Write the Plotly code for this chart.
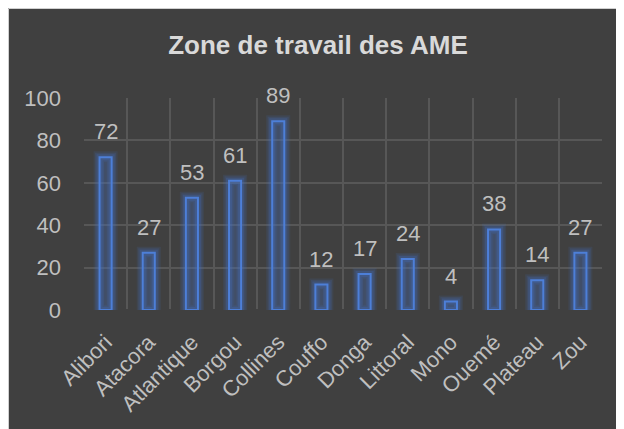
import plotly.graph_objects as go

categories = ["Alibori", "Atacora", "Atlantique", "Borgou", "Collines", "Couffo",
              "Donga", "Littoral", "Mono", "Ouemé", "Plateau", "Zou"]
values = [72, 27, 53, 61, 89, 12, 17, 24, 4, 38, 14, 27]
y_ticks = [0, 20, 40, 60, 80, 100]

W, H = 624, 429
L, R, T, B = 76, 30, 90, 127
pw, ph = W - L - R, H - T - B

BG = "#404040"
FONT = "Liberation Sans Narrow, Arial Narrow, Liberation Sans, Arial, sans-serif"

fig = go.Figure()

# glow layers
for lw, a in [(12, 0.12), (9, 0.16), (6, 0.24)]:
    fig.add_trace(go.Bar(
        x=categories, y=values, width=0.28,
        marker=dict(color="rgba(0,0,0,0)", line=dict(color=f"rgba(68,114,196,{a})", width=lw)),
        hoverinfo="skip", showlegend=False))

# main bars
fig.add_trace(go.Bar(
    x=categories, y=values, width=0.28,
    marker=dict(color="rgba(68,114,196,0.22)", line=dict(color="#4d7fd8", width=2)),
    showlegend=False))

for c, v in zip(categories, values):
    fig.add_annotation(x=c, y=v, text=str(v), showarrow=False, yanchor="bottom",
                       yshift=11, font=dict(family=FONT, size=22, color="#bfbfbf"))

def px2x(px):
    return (px - L) / pw

def py2y(py):
    return (H - B - py) / ph

# thin light border on the chart's top and left edges
fig.add_shape(type="path", xref="paper", yref="paper",
              path=f"M {px2x(0.5)} {py2y(H)} L {px2x(0.5)} {py2y(0.5)} L {px2x(W)} {py2y(0.5)}",
              line=dict(color="#d0d0d0", width=1), layer="above")

fig.update_layout(
    width=W, height=H,
    margin=dict(l=L, r=R, t=T, b=B, pad=0, autoexpand=False),
    paper_bgcolor=BG, plot_bgcolor=BG,
    barmode="overlay",
    title=dict(text="<b>Zone de travail des AME</b>", x=310 / W, xref="container",
               xanchor="center", y=1 - 37 / H, yref="container", yanchor="middle",
               automargin=False,
               font=dict(family=FONT, size=26, color="#d9d9d9")),
    font=dict(family=FONT, color="#bfbfbf"),
    xaxis=dict(categoryorder="array", categoryarray=categories, automargin=False,
               tickangle=-45, tickfont=dict(size=22, color="#bfbfbf"),
               showgrid=True, gridcolor="#575757", gridwidth=1.5,
               tickson="boundaries", ticks="", showline=False, zeroline=False,
               ticklabelstandoff=14),
    yaxis=dict(range=[0, 100], tickvals=y_ticks, tickfont=dict(size=22, color="#bfbfbf"),
               automargin=False,
               showgrid=True, gridcolor="#575757", gridwidth=1.5,
               zeroline=True, zerolinecolor=BG, zerolinewidth=2,
               ticks="", ticklabelstandoff=22, showline=False),
)

fig.write_html("out.html")
